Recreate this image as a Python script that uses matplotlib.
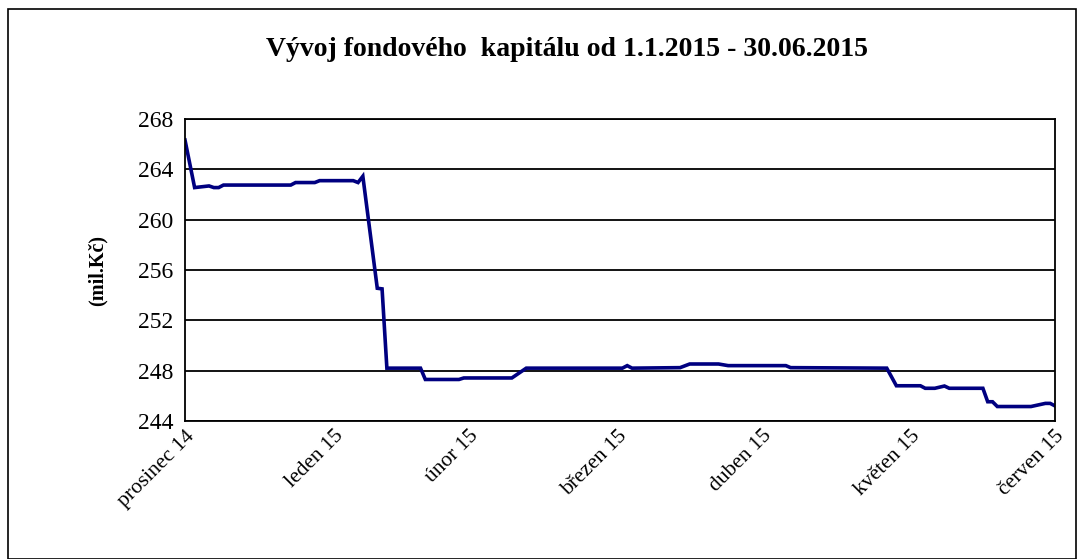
import matplotlib.pyplot as plt
import matplotlib.dates as mdates
import pandas as pd
from matplotlib.patches import Rectangle

# breakpoints of the fund capital line (mil. Kč)
dates = [
    '2014-12-31', '2015-01-02', '2015-01-05', '2015-01-06', '2015-01-07', '2015-01-08',
    '2015-01-22', '2015-01-23', '2015-01-27', '2015-01-28', '2015-02-04', '2015-02-05',
    '2015-02-06', '2015-02-09', '2015-02-10', '2015-02-11', '2015-02-18', '2015-02-19',
    '2015-02-26', '2015-02-27', '2015-03-09', '2015-03-12', '2015-04-01', '2015-04-02',
    '2015-04-03', '2015-04-13', '2015-04-15', '2015-04-21', '2015-04-23', '2015-05-05',
    '2015-05-06', '2015-05-26', '2015-05-28', '2015-06-02', '2015-06-03', '2015-06-05',
    '2015-06-07', '2015-06-08', '2015-06-15', '2015-06-16', '2015-06-17', '2015-06-18',
    '2015-06-25', '2015-06-28', '2015-06-29', '2015-06-30',
]
values = [
    266.33, 262.55, 262.68, 262.55, 262.55, 262.75,
    262.75, 262.95, 262.95, 263.10, 263.10, 262.95,
    263.45, 254.55, 254.50, 248.20, 248.20, 247.30,
    247.30, 247.42, 247.42, 248.20, 248.20, 248.40,
    248.20, 248.24, 248.53, 248.53, 248.40, 248.40,
    248.24, 248.20, 246.80, 246.80, 246.60, 246.60,
    246.78, 246.60, 246.60, 245.53, 245.53, 245.15,
    245.15, 245.40, 245.40, 245.20,
]
month_labels = ['prosinec 14', 'leden 15', 'únor 15', 'březen 15', 'duben 15', 'květen 15', 'červen 15']
y_ticks = [244, 248, 252, 256, 260, 264, 268]

plt.rcParams['font.family'] = ['Liberation Serif', 'DejaVu Serif']

W, H = 1078, 559
fig = plt.figure(figsize=(W / 100, H / 100), dpi=100)
ax = fig.add_axes([185 / W, 1 - 421 / H, 870 / W, 302 / H])

x = pd.to_datetime(dates)
ax.plot(x, values, color='#000080', lw=2.6, solid_joinstyle='miter')

tick_dates = pd.date_range('2014-12-31', '2015-06-30', freq='ME')
ax.set_xlim(tick_dates[0], tick_dates[-1])
ax.set_xticks(tick_dates)
ax.set_xticklabels(month_labels, rotation=45, ha='right', rotation_mode='anchor', fontsize=15.5)
ax.set_ylim(244, 268)
ax.set_yticks(y_ticks)
ax.set_yticklabels([str(v) for v in y_ticks], fontsize=17)
ax.tick_params(axis='y', length=0, pad=8.5)
ax.tick_params(axis='x', length=0, pad=4)
ax.grid(axis='y', color='black', lw=1.3)
ax.set_axisbelow(True)
for s in ax.spines.values():
    s.set_color('black')
    s.set_linewidth(1.3)

fig.text(567 / W, 1 - 49 / H, 'Vývoj fondového  kapitálu od 1.1.2015 - 30.06.2015',
         ha='center', va='center', fontsize=20, fontweight='bold')
fig.text(98 / W, 1 - 270 / H, '(mil.Kč)', rotation=90, ha='center', va='center',
         fontsize=14.5, fontweight='bold')

# outer chart frame
fig.patches.append(Rectangle((8 / W, 0.5 / H), (W - 10) / W, (H - 9.5) / H,
                             transform=fig.transFigure, fill=False, ec='black', lw=1.2))

fig.savefig('out.png', dpi=100)
